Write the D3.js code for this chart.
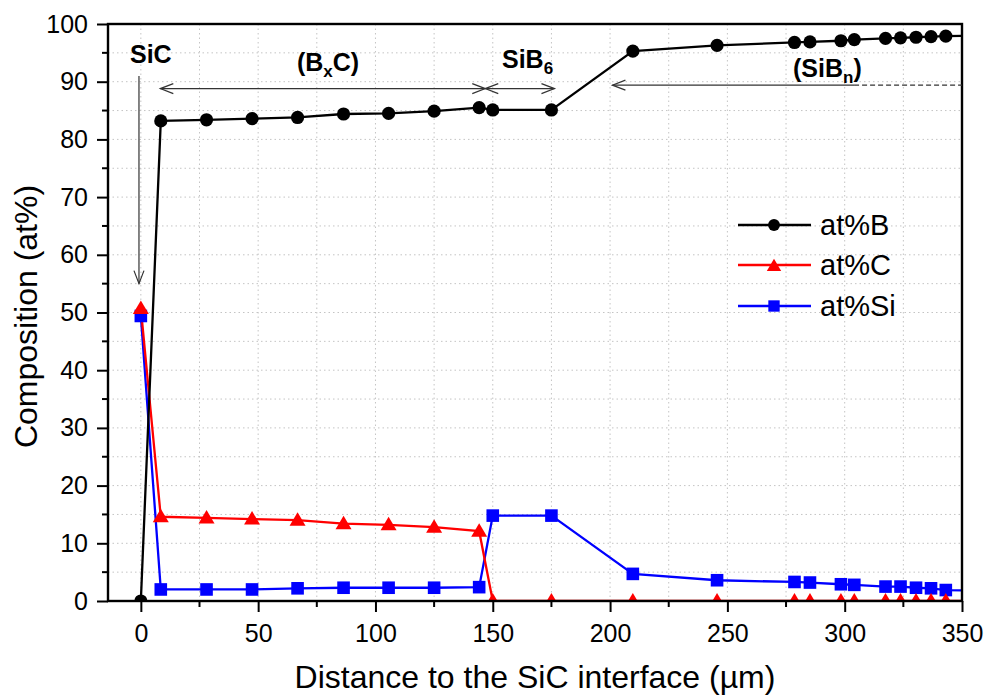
<!DOCTYPE html>
<html>
<head>
<meta charset="utf-8">
<script src="https://cdn.jsdelivr.net/npm/d3@7"></script>
<style>
  html, body { margin: 0; padding: 0; background: #fff; }
  svg { display: block; font-family: "Liberation Sans", Arial, sans-serif; }
</style>
</head>
<body>
<svg id="chart" width="990" height="699"></svg>
<script>
// Depth profile across the SiC interface (at%)
const distance = [0, 8.5, 28, 47.4, 66.8, 86.4, 105.6, 125, 144.2, 150, 175, 209.7, 245.6, 278.6, 285.2, 298.4, 304.1, 317.4, 323.8, 330.4, 336.8, 343.1, 356];
const atB  = [0, 83.2, 83.4, 83.6, 83.8, 84.4, 84.5, 84.9, 85.5, 85.1, 85.1, 95.3, 96.3, 96.8, 96.9, 97.1, 97.3, 97.5, 97.6, 97.7, 97.8, 97.9, 98.0];
const atC  = [50.7, 14.6, 14.4, 14.2, 14.0, 13.4, 13.2, 12.8, 12.1, 0, 0, 0, 0, 0, 0, 0, 0, 0, 0, 0, 0, 0, 0];
const atSi = [49.4, 2.0, 2.0, 2.0, 2.2, 2.3, 2.3, 2.3, 2.4, 14.8, 14.8, 4.7, 3.6, 3.3, 3.2, 2.9, 2.8, 2.5, 2.5, 2.3, 2.2, 1.9, 1.8];

const xTicks = [0, 50, 100, 150, 200, 250, 300, 350];
const yTicks = [0, 10, 20, 30, 40, 50, 60, 70, 80, 90, 100];
const seriesNames = ["at%B", "at%C", "at%Si"];
const seriesColors = ["#000000", "#ff0000", "#0000ff"];
const seriesSymbols = ["circle", "triangle", "square"];

const series = [atB, atC, atSi].map((vals, i) => ({
  name: seriesNames[i], color: seriesColors[i], symbol: seriesSymbols[i],
  points: distance.map((d, j) => [d, vals[j]])
}));

const svg = d3.select("#chart");
const pLeft = 108, pRight = 962, pTop = 24, pBottom = 601;
const x = d3.scaleLinear().domain([-14, 350]).range([pLeft, pRight]);
const y = d3.scaleLinear().domain([0, 100]).range([pBottom, pTop]);

svg.append("defs").append("clipPath").attr("id", "plotClip")
  .append("rect").attr("x", pLeft).attr("y", pTop).attr("width", pRight - pLeft).attr("height", pBottom - pTop);

// dotted grid at every major and minor tick
const grid = svg.append("g");
d3.range(0, 351, 25).forEach(v => {
  grid.append("line").attr("x1", x(v)).attr("x2", x(v)).attr("y1", pTop).attr("y2", pBottom)
    .attr("stroke", "#c4c4c4").attr("stroke-width", 1).attr("stroke-dasharray", "1.5,3");
});
d3.range(5, 100, 5).forEach(v => {
  grid.append("line").attr("x1", pLeft).attr("x2", pRight).attr("y1", y(v)).attr("y2", y(v))
    .attr("stroke", "#c4c4c4").attr("stroke-width", 1).attr("stroke-dasharray", "1.5,3");
});

// symbol drawing helper
function drawSymbol(g, sym, cx, cy, color, scale = 1) {
  if (sym === "circle") {
    g.append("circle").attr("cx", cx).attr("cy", cy).attr("r", 6.6 * scale).attr("fill", color);
  } else if (sym === "square") {
    const h = 6.3 * scale;
    g.append("rect").attr("x", cx - h).attr("y", cy - h).attr("width", 2 * h).attr("height", 2 * h).attr("fill", color);
  } else {
    g.append("path").attr("d", `M${cx},${cy - 8 * scale} L${cx + 8 * scale},${cy + 5.5 * scale} L${cx - 8 * scale},${cy + 5.5 * scale} Z`).attr("fill", color);
  }
}

// series lines and symbols
const plot = svg.append("g").attr("clip-path", "url(#plotClip)");
const line = d3.line().x(d => x(d[0])).y(d => y(d[1]));
series.slice().reverse().forEach(s => {
  plot.append("path").datum(s.points).attr("d", line)
    .attr("fill", "none").attr("stroke", s.color).attr("stroke-width", 2.3);
});
series.slice().reverse().forEach(s => {
  const g = plot.append("g");
  s.points.forEach(p => drawSymbol(g, s.symbol, x(p[0]), y(p[1]), s.color));
});

// axes
const xAxis = d3.axisBottom(x).tickValues(xTicks).tickSize(11).tickPadding(12);
const gx = svg.append("g").attr("transform", `translate(0,${pBottom})`).call(xAxis);
const yAxis = d3.axisLeft(y).tickValues(yTicks).tickSize(11).tickPadding(9);
const gy = svg.append("g").attr("transform", `translate(${pLeft},0)`).call(yAxis);
[gx, gy].forEach(g => {
  g.select(".domain").remove();
  g.selectAll(".tick line").attr("stroke", "#000").attr("stroke-width", 2);
  g.selectAll(".tick text").attr("font-size", 25).attr("fill", "#000")
    .attr("font-family", "Liberation Sans, Arial, sans-serif");
});
// minor ticks
d3.range(25, 350, 50).forEach(v => {
  svg.append("line").attr("x1", x(v)).attr("x2", x(v)).attr("y1", pBottom).attr("y2", pBottom + 6)
    .attr("stroke", "#000").attr("stroke-width", 2);
});
d3.range(5, 100, 10).forEach(v => {
  svg.append("line").attr("x1", pLeft).attr("x2", pLeft - 6).attr("y1", y(v)).attr("y2", y(v))
    .attr("stroke", "#000").attr("stroke-width", 2);
});
// frame
svg.append("rect").attr("x", pLeft).attr("y", pTop).attr("width", pRight - pLeft).attr("height", pBottom - pTop)
  .attr("fill", "none").attr("stroke", "#000").attr("stroke-width", 2.4);

// axis titles
svg.append("text").attr("x", (pLeft + pRight) / 2).attr("y", 688).attr("text-anchor", "middle")
  .attr("font-size", 32).text("Distance to the SiC interface (µm)");
svg.append("text").attr("transform", `translate(37,${(pTop + pBottom) / 2 + 4}) rotate(-90)`)
  .attr("text-anchor", "middle").attr("font-size", 32).text("Composition (at%)");

// phase annotations
const ann = svg.append("g").attr("stroke", "#333").attr("stroke-width", 1.2).attr("fill", "none");
function arrowHead(px, py, dir) {
  let d;
  if (dir === "left") d = `M${px + 13},${py - 5} L${px},${py} L${px + 13},${py + 5}`;
  else if (dir === "right") d = `M${px - 13},${py - 5} L${px},${py} L${px - 13},${py + 5}`;
  else d = `M${px - 5},${py - 13} L${px},${py} L${px + 5},${py - 13}`;
  ann.append("path").attr("d", d);
}
function hLine(x1, x2, yy, dash) {
  const l = ann.append("line").attr("x1", x1).attr("x2", x2).attr("y1", yy).attr("y2", yy);
  if (dash) l.attr("stroke-dasharray", "5,3");
}
// SiC marker
ann.append("line").attr("x1", x(-0.8)).attr("x2", x(-0.8)).attr("y1", y(91)).attr("y2", y(55));
arrowHead(x(-0.8), y(55), "down");
// BxC range
hLine(x(8.3), x(146.8), y(88.8));
arrowHead(x(8.3), y(88.8), "left");
arrowHead(x(146.8), y(88.8), "right");
// SiB6 range
hLine(x(146.8), x(176.3), y(88.8));
arrowHead(x(146.8), y(88.8), "left");
arrowHead(x(176.3), y(88.8), "right");
// SiBn range
hLine(x(201), x(304), y(89.4));
hLine(x(304), pRight, y(89.4), true);
arrowHead(x(201), y(89.4), "left");

const labels = svg.append("g").attr("font-weight", "bold").attr("font-size", 25).attr("fill", "#000");
labels.append("text").attr("x", 130).attr("y", 63).text("SiC");
const t1 = labels.append("text").attr("x", 328).attr("y", 71).attr("text-anchor", "middle");
t1.append("tspan").text("(B");
t1.append("tspan").attr("font-size", 17).attr("dy", 6).text("x");
t1.append("tspan").attr("dy", -6).text("C)");
const t2 = labels.append("text").attr("x", 502).attr("y", 68);
t2.append("tspan").text("SiB");
t2.append("tspan").attr("font-size", 17).attr("dy", 6).text("6");
const t3 = labels.append("text").attr("x", 793).attr("y", 77);
t3.append("tspan").text("(SiB");
t3.append("tspan").attr("font-size", 17).attr("dy", 6).text("n");
t3.append("tspan").attr("dy", -6).text(")");

// legend
const legend = svg.append("g");
const legendY = [225, 265, 306];
series.forEach((s, i) => {
  const ly = legendY[i];
  legend.append("line").attr("x1", 738).attr("x2", 811).attr("y1", ly).attr("y2", ly)
    .attr("stroke", s.color).attr("stroke-width", 2.3);
  drawSymbol(legend, s.symbol, 774, ly + (s.symbol === "triangle" ? 1 : 0), s.color, 0.9);
  legend.append("text").attr("x", 820).attr("y", ly + 10).attr("font-size", 29).text(s.name);
});
</script>
</body>
</html>
